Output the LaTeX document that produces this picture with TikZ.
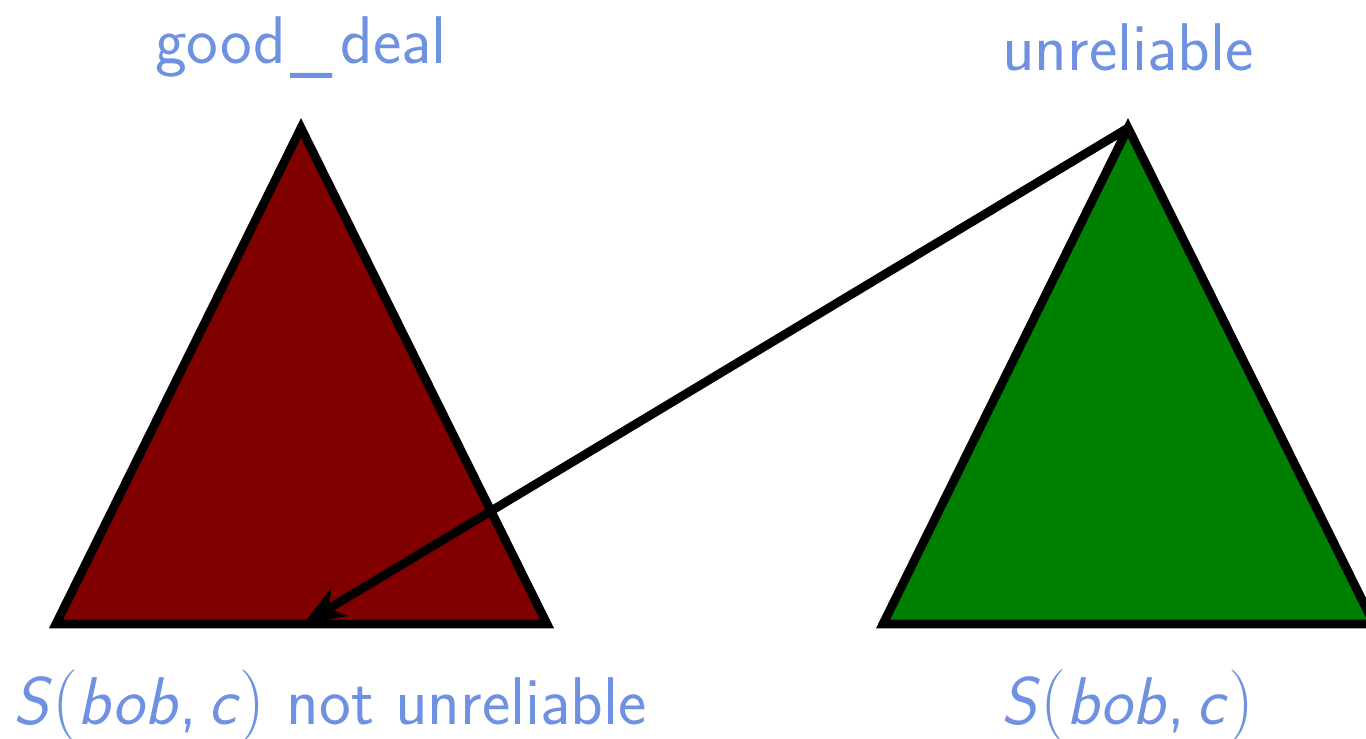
\documentclass[tikz,border=0pt]{standalone}
\usepackage{tikz}
\usetikzlibrary{arrows.meta}
\definecolor{labelblue}{RGB}{110,145,225}
\newcommand{\sfit}[1]{{\itshape #1\/}}

\begin{document}
\begin{tikzpicture}[line width=2.5pt,
  tri/.style={draw=black,line join=miter},
  lbl/.style={text=labelblue,font=\fontsize{19.2}{23}\selectfont\sffamily,inner sep=0pt,anchor=base}]
\useasboundingbox (0,0) rectangle (13.66,7.38);
\coordinate (rtop) at (3.01,6.10);
\coordinate (rleft) at (0.56,1.14);
\coordinate (rright) at (5.47,1.14);
\coordinate (rmid) at (3.03,1.14);
\coordinate (gtop) at (11.28,6.10);
\coordinate (gleft) at (8.83,1.14);
\coordinate (gright) at (13.74,1.14);
\draw[tri,fill=red!50!black](rleft)--(rtop)--(rright)--cycle;
\draw[tri,fill=green!50!black](gleft)--(gtop)--(gright)--cycle;
\draw[-{Stealth[length=12pt,width=9pt,inset=3.5pt]}](gtop)--(rmid);
\node[lbl] (gooddeal) at (3.01,6.75) {good\kern.06em\raisebox{-.07em}{\_}\kern.12em deal};
\node[lbl] (unrel) at (11.28,6.68) {unreliable};
\node[lbl] (rsent) at (3.30,0.14) {\sfit{S}$($\sfit{bob},\,\sfit{c}$)$ not unreliable};
\node[lbl] (gsent) at (11.28,0.14) {\sfit{S}$($\sfit{bob},\,\sfit{c}$)$};
\end{tikzpicture}
\end{document}
